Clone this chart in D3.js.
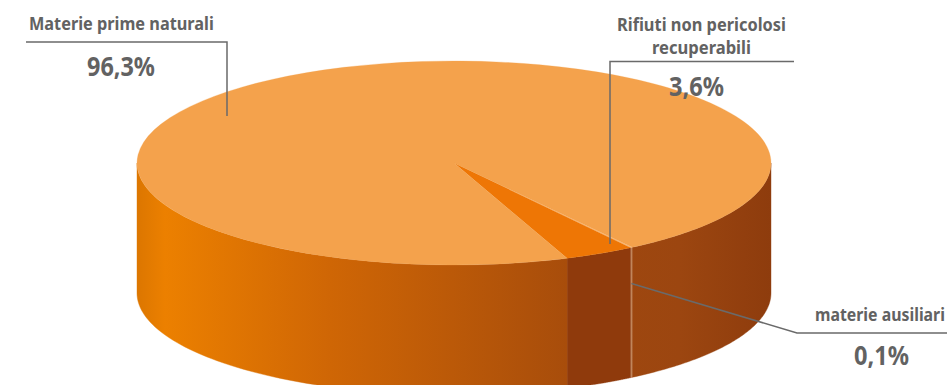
<!DOCTYPE html>
<html lang="it">
<head>
<meta charset="utf-8">
<style>
  html, body { margin: 0; padding: 0; background: #fff; }
  svg { display: block; }
  text { font-family: "Noto Sans", "Open Sans", sans-serif; font-weight: 700; fill: #626262; }
</style>
</head>
<body>
<svg id="chart" width="947" height="385"></svg>
<script src="https://cdn.jsdelivr.net/npm/d3@7"></script>
<script>
// Slices listed clockwise, starting from the thin one on the right.
const categories = ["materie ausiliari", "Rifiuti non pericolosi recuperabili", "Materie prime naturali"];
const shares = [0.1, 3.6, 96.3];
const shareLabels = ["0,1%", "3,6%", "96,3%"];
const topColors = ["#f9bf85", "#ee7605", "#f4a24c"];
const plainWallColors = ["#c8926a", "#8f3a0c"];
const wallStops = [
  [137, "#dc7600"], [165, "#ec8000"], [330, "#cf6605"], [567, "#a84d0b"],
  [568, "#a0480e"], [680, "#9c4610"], [771, "#8e3c0d"]
];

const width = 947, height = 385;
const cx = 454, cy = 163, rx = 317, ry = 102, depth = 130;

// Orthographic tilt of the disc: unit circle to screen space.
const px = d3.scaleLinear().domain([-1, 1]).range([cx - rx, cx + rx]);
const py = d3.scaleLinear().domain([-1, 1]).range([cy - ry, cy + ry]);
const onRim = (a, drop = 0) => [px(Math.sin(a)), py(-Math.cos(a)) + drop];

const deg = Math.PI / 180;
const firstAngle = 145.78 * deg;
const pie = d3.pie().sort(null).startAngle(firstAngle).endAngle(firstAngle + 2 * Math.PI);
const slices = pie(shares);

const svg = d3.select("#chart").attr("viewBox", [0, 0, width, height]);

const grad = svg.append("defs").append("linearGradient")
  .attr("id", "wallShade").attr("gradientUnits", "userSpaceOnUse")
  .attr("x1", cx - rx).attr("x2", cx + rx).attr("y1", 0).attr("y2", 0);
grad.selectAll("stop").data(wallStops).join("stop")
  .attr("offset", d => (d[0] - (cx - rx)) / (2 * rx))
  .attr("stop-color", d => d[1]);

// Side wall: the front half of each slice's rim, extruded downward.
const wallLine = d3.line();
function wallPath(a0, a1) {
  const lo = Math.max(a0, Math.PI / 2), hi = Math.min(a1, 3 * Math.PI / 2);
  const n = 80, upper = [], lower = [];
  for (let i = 0; i <= n; i++) {
    const a = lo + (hi - lo) * i / n;
    upper.push(onRim(a));
    lower.push(onRim(a, depth));
  }
  return wallLine(upper.concat(lower.reverse())) + "Z";
}

const walls = [];
slices.forEach((s, i) => {
  // Angles past a full turn wrap round to the right-hand part of the wall.
  [[s.startAngle, s.endAngle], [s.startAngle - 2 * Math.PI, s.endAngle - 2 * Math.PI]].forEach(([a0, a1]) => {
    if (Math.min(a1, 3 * Math.PI / 2) > Math.max(a0, Math.PI / 2)) walls.push({ a0, a1, i });
  });
});

svg.append("g").selectAll("path").data(walls).join("path")
  .attr("d", d => wallPath(d.a0, d.a1))
  .attr("fill", d => d.i < plainWallColors.length ? plainWallColors[d.i] : "url(#wallShade)")
  .attr("stroke", d => d.i < plainWallColors.length ? plainWallColors[d.i] : "url(#wallShade)")
  .attr("stroke-width", 0.4);

// Top face: a circular pie squashed into the ellipse.
const arc = d3.arc().innerRadius(0).outerRadius(rx);
svg.append("g")
  .attr("transform", `translate(${cx},${cy}) scale(1,${ry / rx})`)
  .selectAll("path").data(slices).join("path")
  .attr("d", arc)
  .attr("fill", (d, i) => topColors[i])
  .attr("stroke", (d, i) => topColors[i])
  .attr("stroke-width", 0.4);

// Leader lines, each anchored on the slice it names.
const mid = s => (s.startAngle + s.endAngle) / 2;
const [thinX, thinY] = onRim(mid(slices[0]), 36);
const leaders = [
  [[26, 42], [227, 42], [227, 116]],
  [[794, 61.5], [610, 61.5], [610, 244]],
  [[thinX, thinY], [797, 333], [947, 333]]
];
svg.append("g").selectAll("path").data(leaders).join("path")
  .attr("d", d3.line())
  .attr("fill", "none")
  .attr("stroke", "#6a6a6a")
  .attr("stroke-width", 1.5);

// Captions, squeezed horizontally to a condensed look.
const captions = [
  { t: "Materie prime naturali", x: 29, y: 30, w: 185, size: 18 },
  { t: "Rifiuti non pericolosi", x: 617, y: 31, w: 169, size: 18 },
  { t: "recuperabili", x: 652, y: 54, w: 99, size: 18 },
  { t: categories[0], x: 815, y: 321, w: 130, size: 18 },
  { t: shareLabels[2], x: 87, y: 76, w: 68, size: 26 },
  { t: shareLabels[1], x: 669, y: 96, w: 55, size: 26 },
  { t: shareLabels[0], x: 854, y: 365, w: 55, size: 26 }
];
svg.append("g").selectAll("text").data(captions).join("text")
  .attr("font-size", d => d.size)
  .text(d => d.t)
  .attr("transform", function (d) {
    return `translate(${d.x},${d.y}) scale(${d.w / this.getComputedTextLength()},1)`;
  });
</script>
</body>
</html>
